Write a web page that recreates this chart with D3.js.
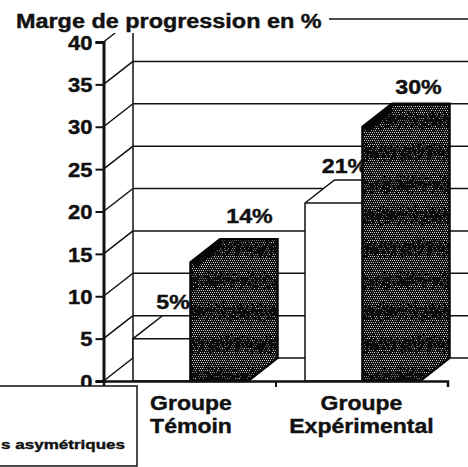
<!DOCTYPE html>
<html>
<head>
<meta charset="utf-8">
<style>
    html, body { margin: 0; padding: 0; background: #fff; }
    svg { display: block; }
    text { font-family: "Liberation Sans", Arial, sans-serif; font-weight: bold; fill: #111; stroke: #111; stroke-width: 0.4; }
    .grid { stroke: #111; stroke-width: 1.5; fill: none; }
    .axis path, .axis line { stroke: #111; }
</style>
</head>
<body>
<svg id="chart" width="468" height="467"></svg>
<script src="https://d3js.org/d3.v7.min.js"></script>
<script>
const categories = ["Groupe Témoin", "Groupe Expérimental"]
const categoryLines = [["Groupe", "Témoin"], ["Groupe", "Expérimental"]]
const series = ["Symétriques", "Asymétriques"]
const valuesSym = [5, 21]
const valuesAsym = [14, 30]
const yTicks = [0, 5, 10, 15, 20, 25, 30, 35, 40]
const titleText = "Marge de progression en %"
const legendText = "s asymétriques"

const svg = d3.select("#chart")

// oblique projection of the 3D box
const depthX = 29.5
const depthY = -23

const y = d3.scaleLinear().domain([0, 40]).range([381, 42])
const x0 = d3.scaleBand().domain(categories).range([103.5, 447.5])
const x1 = d3.scaleBand().domain(series).range([depthX, depthX + 115])

// the scan has all its type a bit wider than normal, so stretch the glyphs
function stretch(sel, k) {
    sel.each(function () {
        d3.select(this).attr("lengthAdjust", "spacingAndGlyphs")
            .attr("textLength", this.getComputedTextLength() * k)
    })
}

// stippled fill of the dark bars: a dot screen with soft horizontal bands and some grain
const defs = svg.append("defs")
const tile = 96
const pat = defs.append("pattern").attr("id", "stipple")
    .attr("patternUnits", "userSpaceOnUse").attr("width", tile).attr("height", tile)
pat.append("rect").attr("width", tile).attr("height", tile).attr("fill", "#0a0a0a")
const grain = (i, j) => {
    const s = Math.sin(i * 12.9898 + j * 78.233) * 43758.5453
    return s - Math.floor(s)
}
for (let j = 0; j < tile; j += 2) {
    for (let i = (j / 2) % 2; i < tile; i += 2) {
        const fade = Math.sin(j / tile * 2 * Math.PI * 3) * 0.45 + grain(i, j) * 1.1 - 0.3
        if (fade > -0.1) {
            pat.append("rect").attr("x", i).attr("y", j).attr("width", 1).attr("height", 1)
                .attr("fill", fade > 0.35 ? "#cfcfcf" : "#7c7c7c")
        }
    }
}

// back wall
const wallRight = 468
svg.selectAll("line.wall").data(yTicks).join("line").attr("class", "grid wall")
    .attr("x1", 103.5 + depthX).attr("x2", wallRight)
    .attr("y1", d => y(d) + depthY).attr("y2", d => y(d) + depthY)
svg.selectAll("line.side").data(yTicks).join("line").attr("class", "grid side")
    .attr("x1", 103.5).attr("x2", 103.5 + depthX)
    .attr("y1", d => y(d)).attr("y2", d => y(d) + depthY)
svg.append("line").attr("class", "grid")
    .attr("x1", 103.5 + depthX).attr("x2", 103.5 + depthX)
    .attr("y1", y(0) + depthY).attr("y2", y(40) + depthY)

// white background of the title hides the top of the wall
svg.append("rect").attr("x", 0).attr("y", 0).attr("width", 329).attr("height", 33).attr("fill", "#fff")
svg.append("text").attr("x", 16).attr("y", 28).attr("font-size", 19.5).text(titleText).call(stretch, 1.2)

function drawBar(cat, ser, value, dark) {
    const xl = x0(cat) + x1(ser)
    const xr = xl + x1.bandwidth()
    const yt = y(value), yb = y(0)
    if (dark) {
        svg.append("path")
            .attr("d", d3.line()([[xl, yb], [xl, yt], [xl + depthX, yt + depthY], [xr + depthX, yt + depthY],
                                  [xr + depthX, yb + depthY], [xr, yb]]) + "Z")
            .attr("fill", "url(#stipple)").attr("stroke", "#050505").attr("stroke-width", 2.5)
        // the top face reads darker than the front
        svg.append("path")
            .attr("d", d3.line()([[xl, yt], [xl + depthX, yt + depthY], [xl + depthX, yt + depthY + 8], [xl + 6, yt + 6]]) + "Z")
            .attr("fill", "#050505")
    } else {
        svg.append("path")
            .attr("d", d3.line()([[xl, yb], [xl, yt], [xl + depthX, yt + depthY], [xr, yt + depthY],
                                  [xr, yb]]) + "Z")
            .attr("fill", "#fff").attr("stroke", "#111").attr("stroke-width", 1.5)
        svg.append("line").attr("class", "grid")
            .attr("x1", xl).attr("x2", xr).attr("y1", yt).attr("y2", yt)
    }
}

// value labels, the white bar label sits under the dark bar
function drawLabel(cat, ser, value, dx, dy) {
    svg.append("text").attr("x", x0(cat) + x1(ser) + dx).attr("y", y(value) + dy)
        .attr("text-anchor", "middle").attr("font-size", 20)
        .text(value + "%").call(stretch, 1.16)
}

const asymLabelDx = [59, 56]
const asymLabelDy = [-39, -33]
categories.forEach((c, i) => {
    drawBar(c, series[0], valuesSym[i], false)
    drawLabel(c, series[0], valuesSym[i], 40, -30)
    drawBar(c, series[1], valuesAsym[i], true)
    drawLabel(c, series[1], valuesAsym[i], asymLabelDx[i], asymLabelDy[i])
})

// axes
const axisLeft = d3.axisLeft(y).tickValues(yTicks).tickSize(8).tickPadding(3)
const gy = svg.append("g").attr("class", "axis").attr("transform", "translate(103.5,0)").call(axisLeft)
gy.select(".domain").attr("stroke-width", 3)
gy.selectAll("line").attr("stroke-width", 2)
gy.selectAll("text").attr("font-size", 20).attr("dy", "0.36em").call(stretch, 1.1)

const xAxis = d3.axisBottom(d3.scalePoint().domain([0, 1, 2]).range([103.5, 447.5]))
    .tickSize(6).tickFormat("")
const gx = svg.append("g").attr("class", "axis").attr("transform", "translate(0," + y(0) + ")").call(xAxis)
gx.select(".domain").attr("stroke-width", 2.5)
gx.selectAll("line").attr("stroke-width", 2)

// category labels
categories.forEach((c, i) => {
    const cx = x0(c) + x0.bandwidth() / 2 + (i === 0 ? 1.5 : 0)
    categoryLines[i].forEach((t, j) => {
        svg.append("text").attr("x", cx).attr("y", 410 + j * 23)
            .attr("text-anchor", "middle").attr("font-size", 20)
            .text(t).call(stretch, 1.15)
    })
})

// legend box, cut by the page edge
svg.append("rect").attr("x", -2).attr("y", 386).attr("width", 139).attr("height", 80)
    .attr("fill", "#fff").attr("stroke", "#111").attr("stroke-width", 1.5)
svg.append("text").attr("x", 125).attr("y", 449).attr("text-anchor", "end")
    .attr("font-size", 13.5).text(legendText).call(stretch, 1.26)
</script>
</body>
</html>
